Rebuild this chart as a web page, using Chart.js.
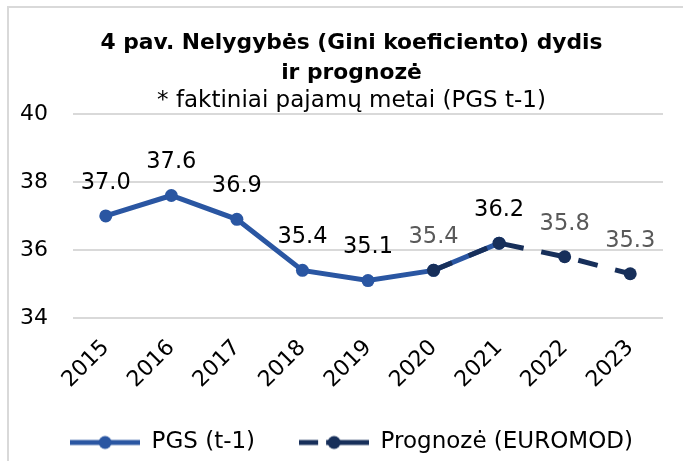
<!DOCTYPE html>
<html>
<head>
<meta charset="utf-8">
<script src="https://cdn.jsdelivr.net/npm/chart.js@4.4.0/dist/chart.umd.min.js"></script>
<style>
  html, body { margin: 0; padding: 0; background: #ffffff; }
  #wrap { width: 683px; height: 461px; position: relative; }
</style>
</head>
<body>
<div id="wrap"><canvas id="c" width="683" height="461"></canvas></div>
<script>
// ---- data ----
const years = ['2015', '2016', '2017', '2018', '2019', '2020', '2021', '2022', '2023'];
const pgsValues = [37.0, 37.6, 36.9, 35.4, 35.1, 35.4, 36.2, null, null];
const forecastValues = [null, null, null, null, null, 35.4, 36.2, 35.8, 35.3];
const yTickValues = [34, 36, 38, 40];
const seriesNames = ['PGS (t-1)', 'Prognozė (EUROMOD)'];
const titleLines = ['4 pav. Nelygybės (Gini koeficiento) dydis', 'ir prognozė'];
const subtitleText = '* faktiniai pajamų metai (PGS t-1)';
// which value labels are shown per series (by category index)
const pgsLabelShown = [true, true, true, true, true, false, true, false, false];
const forecastLabelShown = [false, false, false, false, false, true, false, true, true];

const FONT = '"DejaVu Sans", Verdana, sans-serif';
const BLUE = '#2a56a2';
const NAVY = '#172f5a';

function makeIcon(color, dashed) {
  const c = document.createElement('canvas');
  c.width = 70; c.height = 16;
  const g = c.getContext('2d');
  g.strokeStyle = color; g.fillStyle = color; g.lineWidth = 5;
  g.beginPath();
  if (dashed) {
    g.moveTo(0, 8); g.lineTo(19, 8);
    g.moveTo(27, 8); g.lineTo(70, 8);
  } else {
    g.moveTo(0, 8); g.lineTo(70, 8);
  }
  g.stroke();
  g.beginPath(); g.arc(35, 8, 6.5, 0, Math.PI * 2); g.fill();
  return c;
}

const borderPlugin = {
  id: 'frameBorder',
  beforeDraw(chart) {
    const ctx = chart.ctx;
    ctx.save();
    ctx.strokeStyle = '#d9d9d9';
    ctx.lineWidth = 2;
    ctx.beginPath();
    ctx.moveTo(8, 470); ctx.lineTo(8, 7); ctx.lineTo(700, 7);
    ctx.stroke();
    ctx.restore();
  }
};

const valueLabelPlugin = {
  id: 'valueLabels',
  afterDatasetsDraw(chart) {
    const ctx = chart.ctx;
    ctx.save();
    ctx.font = '22.5px ' + FONT;
    ctx.textAlign = 'center';
    ctx.textBaseline = 'middle';
    chart.data.datasets.forEach((ds, di) => {
      const meta = chart.getDatasetMeta(di);
      const shown = di === 0 ? pgsLabelShown : forecastLabelShown;
      ctx.fillStyle = di === 0 ? '#000000' : '#595959';
      meta.data.forEach((pt, i) => {
        const v = ds.data[i];
        if (v == null || !shown[i]) return;
        ctx.fillText(v.toFixed(1), pt.x, pt.y - 33);
      });
    });
    ctx.restore();
  }
};

new Chart(document.getElementById('c'), {
  type: 'line',
  data: {
    labels: years,
    datasets: [
      {
        label: seriesNames[0],
        data: pgsValues,
        borderColor: BLUE,
        backgroundColor: BLUE,
        borderWidth: 5,
        pointRadius: 6.5,
        pointBackgroundColor: BLUE,
        pointBorderWidth: 0,
        tension: 0,
        order: 1
      },
      {
        label: seriesNames[1],
        data: forecastValues,
        borderColor: NAVY,
        backgroundColor: NAVY,
        borderWidth: 5,
        borderDash: [20, 18],
        pointRadius: 6.5,
        pointBackgroundColor: NAVY,
        pointBorderWidth: 0,
        tension: 0,
        order: 0
      }
    ]
  },
  options: {
    responsive: false,
    animation: false,
    layout: { padding: { left: 20, right: 0, top: 29, bottom: 0 } },
    plugins: {
      tooltip: { enabled: false },
      title: {
        display: true,
        text: titleLines,
        color: '#000000',
        font: { family: FONT, size: 21.8, weight: 'bold', lineHeight: 1.35 },
        padding: { top: 0, bottom: 0 }
      },
      subtitle: {
        display: true,
        text: subtitleText,
        color: '#000000',
        font: { family: FONT, size: 23, weight: 'normal', lineHeight: 1.13 },
        padding: { top: 0, bottom: 0 }
      },
      legend: {
        display: true,
        position: 'bottom',
        maxHeight: 74,
        labels: {
          usePointStyle: true,
          pointStyleWidth: 70,
          padding: 44,
          color: '#000000',
          font: { family: FONT, size: 23 },
          generateLabels(chart) {
            return [
              { text: seriesNames[0], pointStyle: makeIcon(BLUE, false), fillStyle: BLUE, strokeStyle: BLUE, lineWidth: 0, datasetIndex: 0, fontColor: '#000' },
              { text: seriesNames[1], pointStyle: makeIcon(NAVY, true), fillStyle: NAVY, strokeStyle: NAVY, lineWidth: 0, datasetIndex: 1, fontColor: '#000' }
            ];
          }
        }
      }
    },
    scales: {
      x: {
        offset: true,
        afterFit(axis) { axis.height = 69; },
        grid: { display: false },
        border: { display: false },
        ticks: {
          color: '#000000',
          font: { family: FONT, size: 22 },
          maxRotation: 45,
          minRotation: 45,
          padding: 9
        }
      },
      y: {
        min: yTickValues[0],
        max: yTickValues[yTickValues.length - 1],
        afterBuildTicks(axis) { axis.ticks = yTickValues.map(v => ({ value: v })); },
        afterFit(axis) { axis.width = 53; },
        grid: { color: '#d9d9d9', lineWidth: 2, drawTicks: false },
        border: { display: false },
        ticks: {
          color: '#000000',
          font: { family: FONT, size: 22 },
          padding: 25
        }
      },
      yRight: {
        position: 'right',
        display: true,
        afterFit(axis) { axis.width = 20; },
        grid: { display: false, drawTicks: false },
        border: { display: false },
        ticks: { display: false }
      }
    }
  },
  plugins: [borderPlugin, valueLabelPlugin]
});
</script>
</body>
</html>
